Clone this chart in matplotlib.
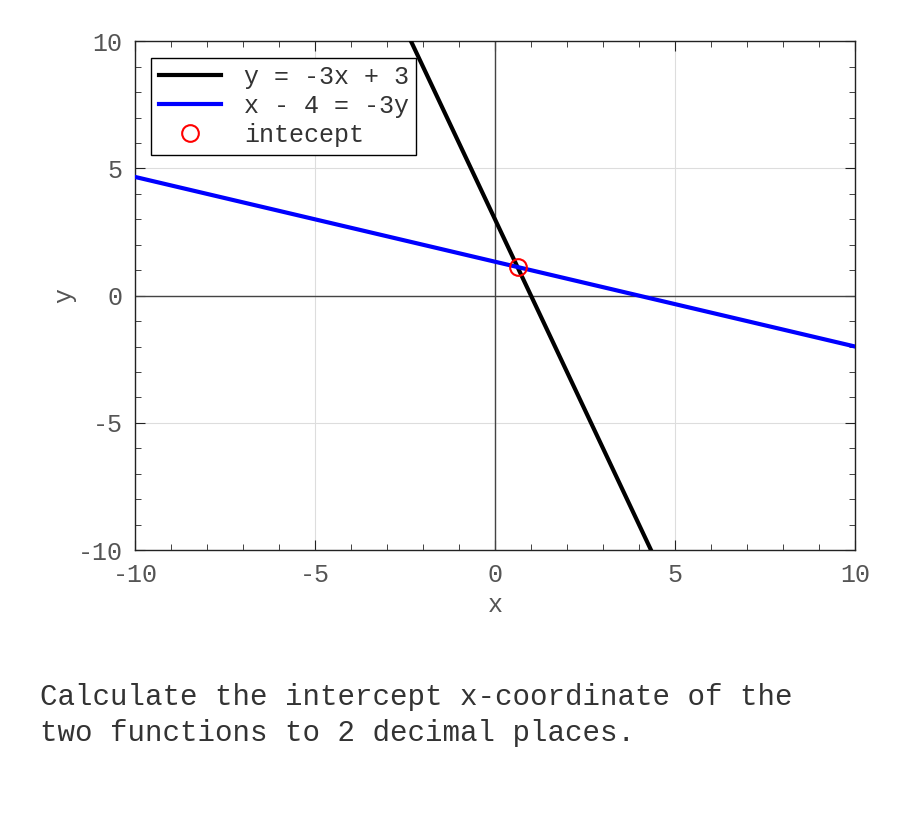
import matplotlib
matplotlib.use("Agg")
import matplotlib.pyplot as plt
from matplotlib.ticker import MultipleLocator

plt.rcParams['font.family'] = ['Liberation Mono', 'DejaVu Sans Mono']
plt.rcParams['axes.unicode_minus'] = False

# line end points (clipped by the axes)
line_x = [-10, 10]
black_y = [33, -27]          # y = -3x + 3
blue_y = [4.6667, -2.0]      # x - 4 = -3y
intercept_x = [0.625]
intercept_y = [1.125]
labels = ['y = -3x + 3', 'x - 4 = -3y', 'intecept']

fig = plt.figure(figsize=(9, 8.25), dpi=100)
ax = fig.add_axes([0.15, 0.3333, 0.80, 0.6167])

ax.axhline(0, color='#444444', lw=1, zorder=1)
ax.axvline(0, color='#444444', lw=1, zorder=1)
ax.plot(line_x, black_y, color='black', lw=3, label=labels[0], zorder=3)
ax.plot(line_x, blue_y, color='blue', lw=3, label=labels[1], zorder=3)
ax.plot(intercept_x, intercept_y, 'o', mfc='none', mec='red', ms=12, mew=1.5,
        label=labels[2], zorder=4)

ax.set_xlim(-10, 10)
ax.set_ylim(-10, 10)
ax.xaxis.set_major_locator(MultipleLocator(5))
ax.yaxis.set_major_locator(MultipleLocator(5))
ax.xaxis.set_minor_locator(MultipleLocator(1))
ax.yaxis.set_minor_locator(MultipleLocator(1))
ax.tick_params(which='both', direction='in', top=True, right=True,
               labelsize=18, labelcolor='#555555', colors='#222222')
ax.tick_params(which='major', length=7)
ax.tick_params(which='minor', length=4)
ax.tick_params(axis='x', pad=9)
ax.tick_params(axis='y', pad=9)
ax.grid(True, which='major', color='#dddddd', lw=0.8, zorder=0)
ax.set_axisbelow(True)
for s in ax.spines.values():
    s.set_color('#222222')
    s.set_linewidth(1)

ax.set_xlabel('x', fontsize=18, color='#555555', labelpad=5)
ax.set_ylabel('y', fontsize=18, color='#555555', labelpad=1)

leg = ax.legend(loc='upper left', fontsize=18, fancybox=False, framealpha=1,
                edgecolor='black', borderpad=0.3, handlelength=2.5,
                handletextpad=0.9, labelspacing=0.2, borderaxespad=0.65)
leg.get_frame().set_linewidth(1)
for t in leg.get_texts():
    t.set_color('#333333')

fig.text(0.045, 0.1333, 'Calculate the intercept x-coordinate of the\ntwo functions to 2 decimal places.',
         fontsize=21, color='#333333', va='center', linespacing=1.35)

fig.savefig('out.png', dpi=100)
